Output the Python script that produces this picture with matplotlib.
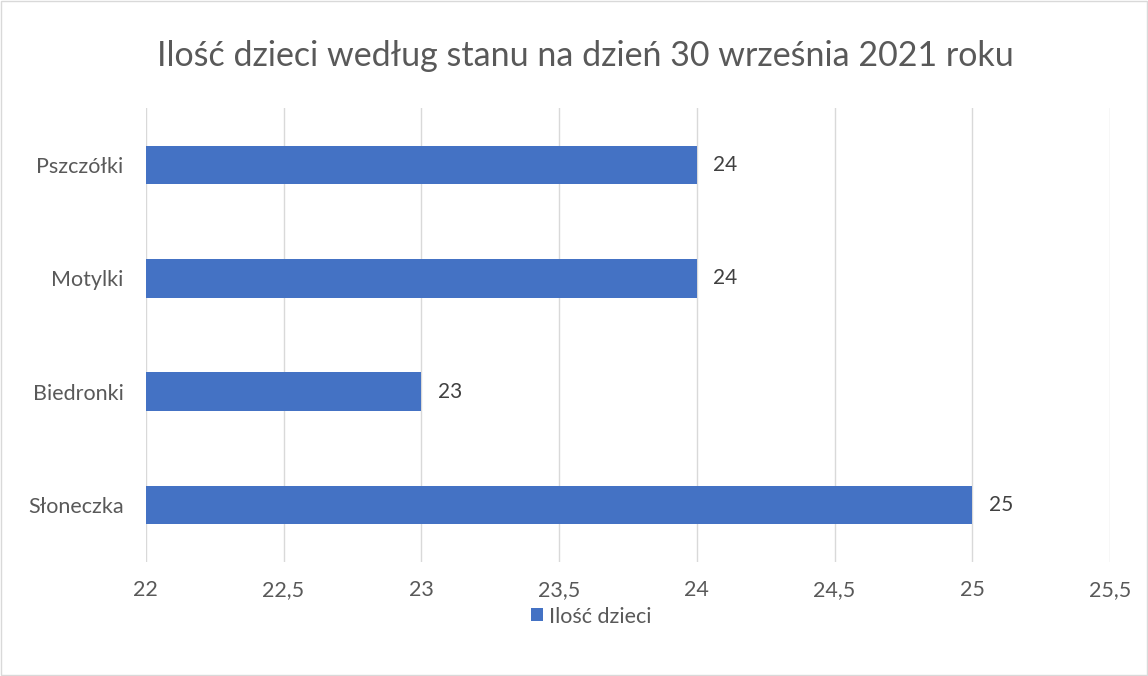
import matplotlib
matplotlib.use("Agg")
import matplotlib.pyplot as plt
from matplotlib.patches import Rectangle

plt.rcParams['font.family'] = ['Lato', 'DejaVu Sans']

TITLE = "Ilość dzieci według stanu na dzień 30 września 2021 roku"
categories = ["Słoneczka", "Biedronki", "Motylki", "Pszczółki"]
values = [25, 23, 24, 24]
x_ticks = [22, 22.5, 23, 23.5, 24, 24.5, 25, 25.5]
x_tick_labels = ["22", "22,5", "23", "23,5", "24", "24,5", "25", "25,5"]
series_name = "Ilość dzieci"

BAR_COLOR = "#4472C4"
TEXT_COLOR = "#595959"
GRID_COLOR = "#D9D9D9"

fig = plt.figure(figsize=(11.48, 6.76), dpi=100)
ax = fig.add_axes([0.127, 0.169, 0.840, 0.671])

base = x_ticks[0]
ypos = list(range(len(categories)))
ax.barh(ypos, [v - base for v in values], left=base, height=0.34,
        color=BAR_COLOR, zorder=3, label=series_name)
for y, v in zip(ypos, values):
    ax.text(v + 0.06, y, str(v), va="center", ha="left",
            fontsize=15, color="#404040")

ax.set_xlim(x_ticks[0], x_ticks[-1])
ax.set_ylim(-0.5, len(categories) - 0.5)
ax.set_xticks(x_ticks)
ax.set_xticklabels(x_tick_labels)
ax.set_yticks(ypos)
ax.set_yticklabels(categories)
ax.tick_params(axis="both", length=0, labelsize=15.5, colors=TEXT_COLOR)
ax.tick_params(axis="x", pad=13)
ax.tick_params(axis="y", pad=16)
ax.grid(axis="x", color=GRID_COLOR, linewidth=1, zorder=0)
for s in ax.spines.values():
    s.set_visible(False)

fig.text(0.51, 0.917, TITLE, ha="center", va="center",
         fontsize=24.5, color=TEXT_COLOR)

leg = fig.legend(loc="center", bbox_to_anchor=(0.515, 0.088), frameon=False,
                 fontsize=15.5, handlelength=0.55, handleheight=0.55,
                 handletextpad=0.3)
for t in leg.get_texts():
    t.set_color(TEXT_COLOR)

fig.patches.append(Rectangle((0.001, 0.001), 0.998, 0.998, transform=fig.transFigure,
                             fill=False, edgecolor=GRID_COLOR, linewidth=1))

fig.savefig("out.png", dpi=100, facecolor="white")
